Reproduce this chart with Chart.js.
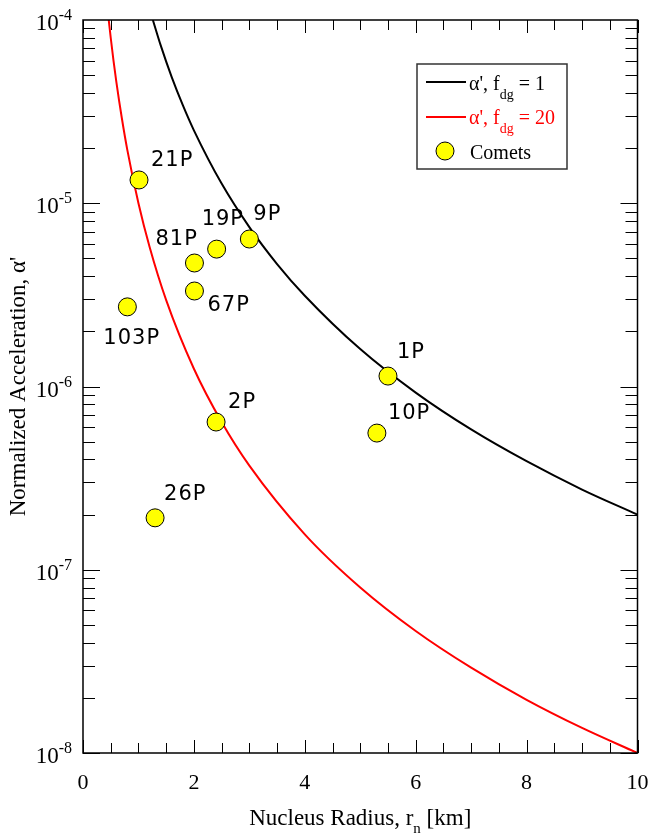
<!DOCTYPE html>
<html>
<head>
<meta charset="utf-8">
<script src="https://cdn.jsdelivr.net/npm/chart.js@4"></script>
<style>
  body { margin: 0; background: #fff; }
  canvas { display: block; }
</style>
</head>
<body>
<canvas id="chart" width="651" height="835"></canvas>
<script>
// curve f_dg = 1 (black)
const radiusBlack = [1.26, 1.4, 1.6, 1.8, 2, 2.5, 3, 3.5, 4, 5, 6, 7, 8, 9, 10];
const accelBlack = [1.0e-4, 7.29e-5, 4.88e-5, 3.43e-5, 2.5e-5, 1.28e-5, 7.41e-6, 4.66e-6, 3.13e-6, 1.6e-6, 9.26e-7, 5.83e-7, 3.91e-7, 2.74e-7, 2.0e-7];

// curve f_dg = 20 (red)
const radiusRed = [0.464, 0.5, 0.55, 0.6, 0.7, 0.8, 1, 1.2, 1.5, 2, 2.5, 3, 4, 5, 6, 7, 8, 9, 10];
const accelRed = [1.0e-4, 8.0e-5, 6.01e-5, 4.63e-5, 2.92e-5, 1.95e-5, 1.0e-5, 5.79e-6, 2.96e-6, 1.25e-6, 6.4e-7, 3.7e-7, 1.56e-7, 8.0e-8, 4.63e-8, 2.92e-8, 1.95e-8, 1.37e-8, 1.0e-8];

// comets
const cometNames = ['21P', '9P', '19P', '81P', '67P', '103P', '2P', '26P', '1P', '10P'];
const cometRadius = [1.01, 3.0, 2.41, 2.01, 2.01, 0.80, 2.40, 1.30, 5.50, 5.30];
const cometAccel = [1.34e-5, 6.38e-6, 5.62e-6, 4.72e-6, 3.32e-6, 2.72e-6, 6.4e-7, 1.92e-7, 1.14e-6, 5.57e-7];
// label offsets in px (left x, middle y) relative to each marker
const labelOffsets = [[12, -19], [4, -24], [-15, -30], [-39, -23], [13, 15], [-24, 32], [12, -19], [9, -23], [9, -24], [11, -20]];

const xTicks = [0, 2, 4, 6, 8, 10];
const yExponents = [-8, -7, -6, -5, -4];

const serif = '"Liberation Serif", "Times New Roman", serif';

function toPoints(xs, ys) {
  return xs.map((x, i) => ({ x: x, y: ys[i] }));
}

function drawSub(ctx, parts, x, y, align) {
  // parts: [text, size, dy]
  let total = 0;
  parts.forEach(p => { ctx.font = p[1] + 'px ' + serif; total += ctx.measureText(p[0]).width; });
  let cx = align === 'center' ? x - total / 2 : (align === 'right' ? x - total : x);
  ctx.textAlign = 'left';
  ctx.textBaseline = 'alphabetic';
  parts.forEach(p => {
    ctx.font = p[1] + 'px ' + serif;
    ctx.fillText(p[0], cx, y + p[2]);
    cx += ctx.measureText(p[0]).width;
  });
}

const decorations = {
  id: 'decorations',
  afterDraw(chart) {
    const ctx = chart.ctx;
    const a = chart.chartArea;
    const xs = chart.scales.x, ys = chart.scales.y;
    ctx.save();

    // frame
    ctx.strokeStyle = '#000';
    ctx.lineWidth = 1.5;
    ctx.strokeRect(a.left, a.top, a.right - a.left, a.bottom - a.top);

    // x ticks (inward, top and bottom)
    ctx.lineWidth = 1;
    for (let v = 0; v <= 10; v += 0.5) {
      const px = Math.round(xs.getPixelForValue(v)) + 0.5;
      const len = (v % 2 === 0) ? 13 : 10;
      ctx.beginPath();
      ctx.moveTo(px, a.bottom); ctx.lineTo(px, a.bottom - len);
      ctx.moveTo(px, a.top); ctx.lineTo(px, a.top + len);
      ctx.stroke();
    }
    // y ticks (log, inward, left and right)
    for (let e = -8; e < -4; e++) {
      for (let k = 1; k <= 9; k++) {
        const py = Math.round(ys.getPixelForValue(k * Math.pow(10, e))) + 0.5;
        const len = k === 1 ? 17 : 12;
        ctx.beginPath();
        ctx.moveTo(a.left, py); ctx.lineTo(a.left + len, py);
        ctx.moveTo(a.right, py); ctx.lineTo(a.right - len, py);
        ctx.stroke();
      }
    }

    // x tick labels
    ctx.fillStyle = '#000';
    ctx.font = '22px ' + serif;
    ctx.textAlign = 'center';
    ctx.textBaseline = 'alphabetic';
    xTicks.forEach(v => {
      ctx.fillText(String(v), xs.getPixelForValue(v), a.bottom + 36);
    });

    // y tick labels 10^e
    yExponents.forEach(e => {
      const py = ys.getPixelForValue(Math.pow(10, e));
      ctx.font = '16px ' + serif;
      const ew = ctx.measureText(String(e)).width;
      const right = a.left - 11;
      ctx.textAlign = 'left';
      ctx.fillText(String(e), right - ew, py);
      ctx.font = '23px ' + serif;
      ctx.textAlign = 'right';
      ctx.fillText('10', right - ew, py + 10);
    });

    // axis titles
    drawSub(ctx, [['Nucleus Radius, r', 23, 0], ['n', 15, 8], [' [km]', 23, 0]], (a.left + a.right) / 2, 825, 'center');
    ctx.save();
    ctx.translate(25, (a.top + a.bottom) / 2);
    ctx.rotate(-Math.PI / 2);
    ctx.font = '23px ' + serif;
    ctx.textAlign = 'center';
    ctx.fillText("Normalized Acceleration, \u03b1'", 0, 0);
    ctx.restore();

    // legend
    ctx.strokeStyle = '#333';
    ctx.lineWidth = 1.5;
    ctx.strokeRect(417, 64, 150, 105);
    ctx.lineWidth = 2;
    ctx.strokeStyle = '#000';
    ctx.beginPath(); ctx.moveTo(426, 82); ctx.lineTo(466, 82); ctx.stroke();
    ctx.fillStyle = '#000';
    drawSub(ctx, [["\u03b1', f", 20, 0], ['dg', 14, 9], [' = 1', 20, 0]], 469, 90, 'left');
    ctx.strokeStyle = '#ff0000';
    ctx.beginPath(); ctx.moveTo(426, 117); ctx.lineTo(466, 117); ctx.stroke();
    ctx.fillStyle = '#ff0000';
    drawSub(ctx, [["\u03b1', f", 20, 0], ['dg', 14, 9], [' = 20', 20, 0]], 469, 124, 'left');
    ctx.beginPath();
    ctx.arc(445, 151, 9, 0, Math.PI * 2);
    ctx.fillStyle = '#ffff00';
    ctx.fill();
    ctx.strokeStyle = '#000';
    ctx.lineWidth = 1;
    ctx.stroke();
    ctx.fillStyle = '#000';
    drawSub(ctx, [['Comets', 20, 0]], 470, 159, 'left');

    // comet labels
    ctx.font = '21px "DejaVu Sans", sans-serif';
    ctx.letterSpacing = '1px';
    ctx.textAlign = 'left';
    ctx.textBaseline = 'middle';
    ctx.fillStyle = '#000';
    cometNames.forEach((name, i) => {
      const px = xs.getPixelForValue(cometRadius[i]);
      const py = ys.getPixelForValue(cometAccel[i]);
      ctx.fillText(name, px + labelOffsets[i][0], py + labelOffsets[i][1]);
    });
    ctx.restore();
  }
};

new Chart(document.getElementById('chart'), {
  type: 'scatter',
  data: {
    datasets: [
      {
        label: 'Comets',
        data: toPoints(cometRadius, cometAccel),
        backgroundColor: '#ffff00',
        borderColor: '#000',
        borderWidth: 1,
        pointRadius: 9,
        order: 0
      },
      {
        label: "alpha', f_dg = 1",
        data: toPoints(radiusBlack, accelBlack),
        showLine: true,
        borderColor: '#000',
        borderWidth: 2,
        pointRadius: 0,
        cubicInterpolationMode: 'monotone',
        order: 1
      },
      {
        label: "alpha', f_dg = 20",
        data: toPoints(radiusRed, accelRed),
        showLine: true,
        borderColor: '#ff0000',
        borderWidth: 2,
        pointRadius: 0,
        cubicInterpolationMode: 'monotone',
        order: 2
      }
    ]
  },
  options: {
    responsive: false,
    animation: false,
    layout: { padding: { left: 83, right: 13.5, top: 20, bottom: 82 } },
    plugins: { legend: { display: false }, tooltip: { enabled: false } },
    scales: {
      x: { type: 'linear', min: 0, max: 10, display: false },
      y: { type: 'logarithmic', min: 1e-8, max: 1e-4, display: false }
    }
  },
  plugins: [decorations]
});
</script>
</body>
</html>
